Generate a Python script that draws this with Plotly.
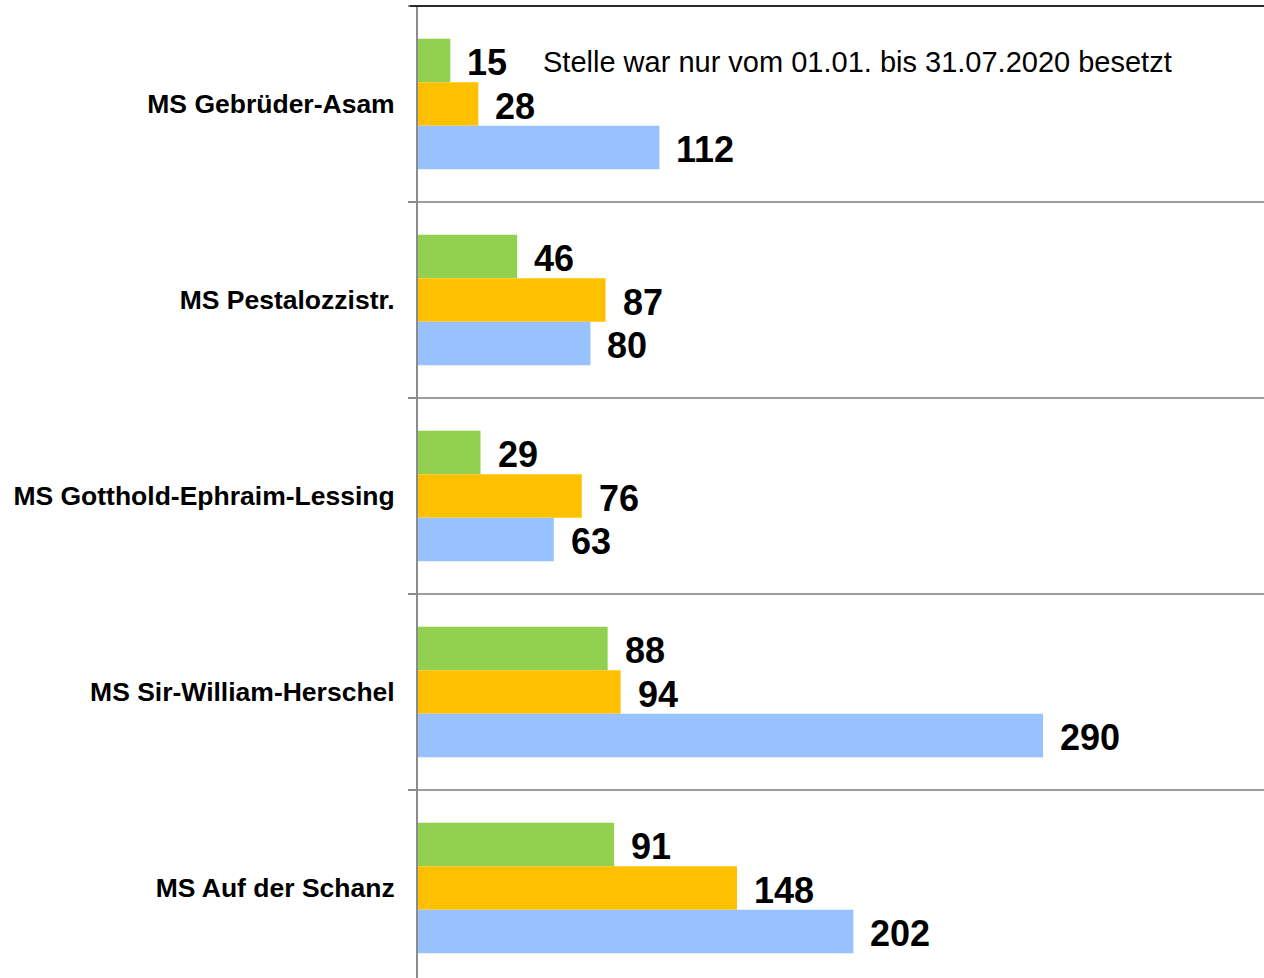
import plotly.graph_objects as go

# Schools (top to bottom)
schools = [
    "MS Gebrüder-Asam",
    "MS Pestalozzistr.",
    "MS Gotthold-Ephraim-Lessing",
    "MS Sir-William-Herschel",
    "MS Auf der Schanz",
]

# Series values per school
series_names = ["2020", "2021", "2022"]
values_green = [15, 46, 29, 88, 91]
values_orange = [28, 87, 76, 94, 148]
values_blue = [112, 80, 63, 290, 202]

note_text = "Stelle war nur vom 01.01. bis 31.07.2020 besetzt"

colors = ["#92d050", "#ffc000", "#97c2fd"]
all_values = [values_green, values_orange, values_blue]

FONT = "Liberation Sans, Arial, sans-serif"

fig = go.Figure()
for name, vals, col in zip(series_names, all_values, colors):
    fig.add_trace(go.Bar(
        y=schools, x=vals, name=name, orientation="h",
        marker=dict(color=col, line=dict(width=0)),
        showlegend=False, hoverinfo="x+name",
    ))

# value labels to the right of each bar
n_series = len(all_values)
bargap = 0.334
slot = (1 - bargap) / n_series
for s, vals in enumerate(all_values):
    offset = (s - (n_series - 1) / 2) * slot
    for i, v in enumerate(vals):
        fig.add_annotation(
            x=v, y=i + offset, xref="x", yref="y",
            text=f"<b>{v}</b>", showarrow=False,
            xanchor="left", yanchor="middle", xshift=15, yshift=-2,
            font=dict(family=FONT, size=36, color="#000"),
        )

# note next to the first bar
fig.add_annotation(
    x=57, y=0 - slot, xref="x", yref="y",
    text=note_text, showarrow=False,
    xanchor="left", yanchor="middle", yshift=-2,
    font=dict(family=FONT, size=29, color="#000"),
)

# dark frame line along the top of the plot area
fig.add_shape(
    type="line", xref="paper", yref="paper",
    x0=-8 / 846, x1=1, y0=1, y1=1,
    line=dict(color="#2a2a2a", width=2), layer="above",
)

fig.update_layout(
    width=1264, height=978,
    margin=dict(l=418, r=0, t=6, b=0, pad=0),
    paper_bgcolor="white", plot_bgcolor="white",
    barmode="group", bargap=bargap, bargroupgap=0,
    font=dict(family=FONT, color="#000"),
    xaxis=dict(
        range=[0, 392.5], showgrid=False, zeroline=False,
        showticklabels=False, ticks="", showline=False, fixedrange=True,
    ),
    yaxis=dict(
        type="category", range=[4.459, -0.5],
        tickson="boundaries", ticks="outside", ticklen=8,
        tickcolor="#8c8c8c", tickwidth=2,
        showgrid=True, gridcolor="#9c9c9c", gridwidth=2,
        showline=True, linecolor="#8c8c8c", linewidth=2,
        ticklabelstandoff=16,
        tickfont=dict(family=FONT, size=26.5, color="#000", weight="bold"),
        fixedrange=True,
    ),
)

fig.write_html("out.html")
